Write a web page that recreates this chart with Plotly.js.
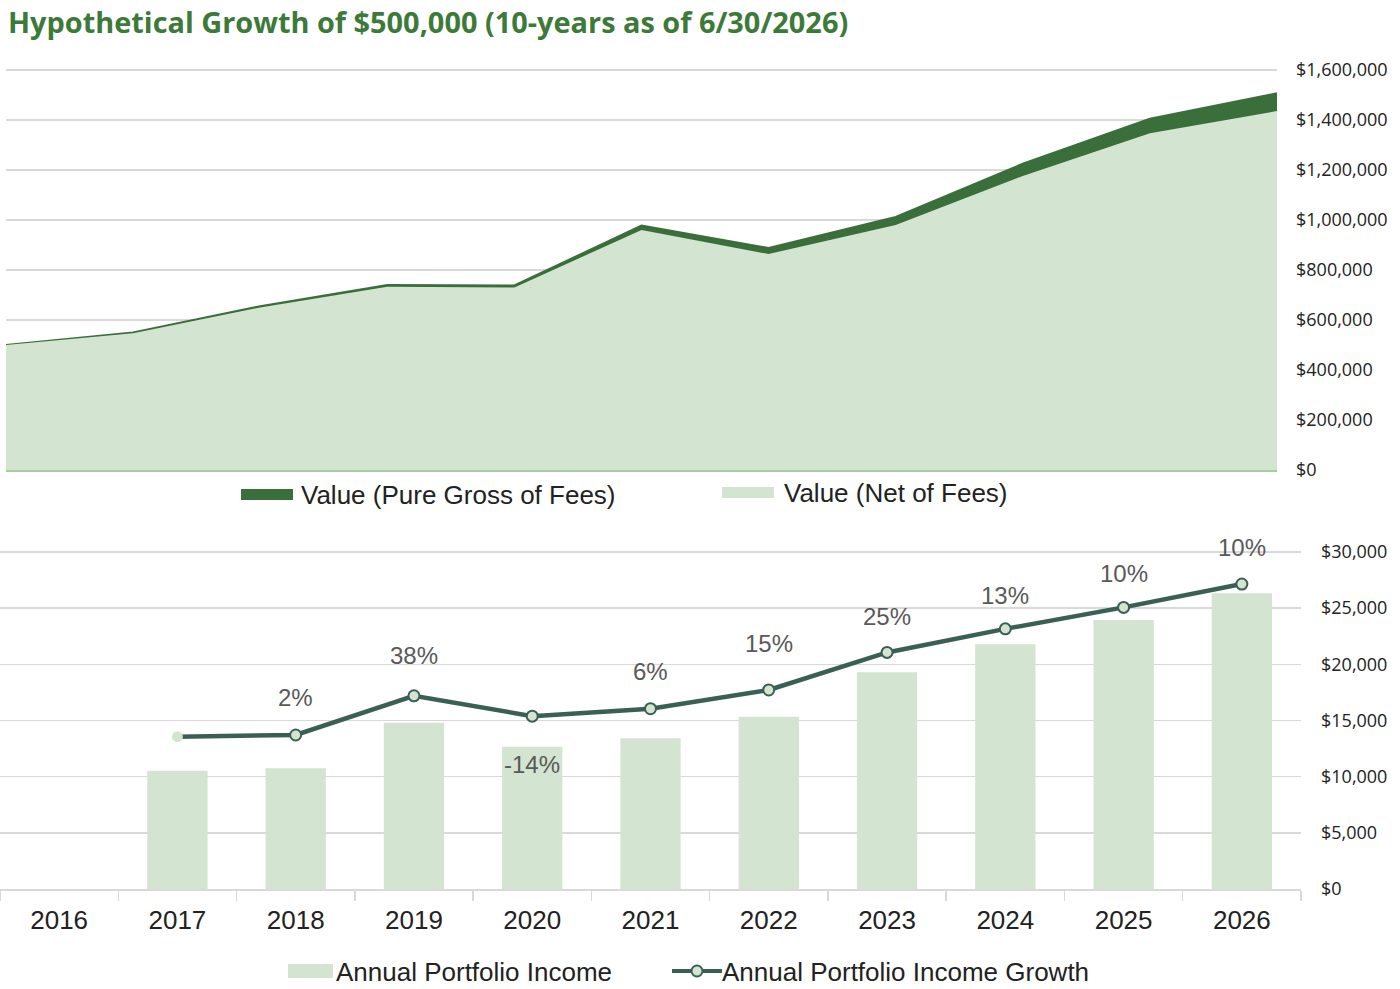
<!DOCTYPE html>
<html>
<head>
<meta charset="utf-8">
<script src="https://cdn.plot.ly/plotly-3.0.1.min.js"></script>
<style>
  html, body { margin: 0; padding: 0; background: #fff; }
  #chart { width: 1400px; height: 989px; }
</style>
</head>
<body>
<div id="chart"></div>
<script>
// values
const years = [2016, 2017, 2018, 2019, 2020, 2021, 2022, 2023, 2024, 2025, 2026];
const grossValue = [500000, 550000, 655000, 740000, 738000, 978000, 888000, 1012000, 1225000, 1405000, 1507000];
const netValue = [500000, 547000, 650000, 733000, 730000, 960000, 864000, 980000, 1176000, 1347000, 1436000];

const incomeYears = years.map(String);
const annualIncome = [null, 10530, 10740, 14810, 12670, 13410, 15340, 19290, 21780, 23950, 26330];
const incomeGrowthLine = [null, 13560, 13710, 17200, 15390, 16050, 17720, 21060, 23160, 25070, 27150];
const growthLabels = ["", "", "2%", "38%", "-14%", "6%", "15%", "25%", "13%", "10%", "10%"];

const W = 1400, H = 989;
const px = (x) => x / W;
const py = (y) => 1 - y / H;

const darkGreen = "#3a6e3a";
const lightGreen = "#d3e5d0";
const lineGreen = "#3a5f55";
const gridGray = "#d9d9d9";
const textDark = "#222222";

const data = [
    {
        x: years,
        y: grossValue,
        type: "scatter",
        mode: "lines",
        fill: "tozeroy",
        fillcolor: darkGreen,
        line: { color: darkGreen, width: 2 },
        xaxis: "x",
        yaxis: "y",
        hoverinfo: "skip",
    },
    {
        x: years,
        y: netValue,
        type: "scatter",
        mode: "lines",
        fill: "tozeroy",
        fillcolor: lightGreen,
        line: { color: lightGreen, width: 0 },
        xaxis: "x",
        yaxis: "y",
        hoverinfo: "skip",
    },
    {
        x: incomeYears,
        y: annualIncome,
        type: "bar",
        width: 0.51,
        marker: { color: lightGreen },
        xaxis: "x2",
        yaxis: "y2",
        hoverinfo: "skip",
    },
    {
        x: incomeYears,
        y: incomeGrowthLine,
        type: "scatter",
        mode: "lines+markers",
        line: { color: lineGreen, width: 4.5 },
        marker: {
            size: 11,
            color: lightGreen,
            line: { color: lineGreen, width: incomeYears.map((d, i) => (i === 1 ? 0 : 2)) },
        },
        xaxis: "x2",
        yaxis: "y2",
        hoverinfo: "skip",
    },
];

// offsets of the percentage labels above (+) or below (-) each point
const labelShift = [0, 0, 38, 40, -48, 37, 46, 36, 33, 34, 37];
const annotations = [];
growthLabels.forEach((label, i) => {
    if (!label) return;
    annotations.push({
        x: i,
        y: incomeGrowthLine[i],
        xref: "x2",
        yref: "y2",
        text: label,
        showarrow: false,
        yshift: labelShift[i],
        font: { family: "Liberation Sans, Arial, sans-serif", size: 24, color: "#595959" },
    });
});

const legendFont = { family: "Liberation Sans, Arial, sans-serif", size: 26, color: textDark };
const legendText = (x, y, text) => ({
    x: px(x), y: py(y), xref: "paper", yref: "paper",
    xanchor: "left", yanchor: "middle", showarrow: false,
    text: text, font: legendFont,
});
annotations.push(
    {
        x: px(6), y: py(21), xref: "paper", yref: "paper",
        xanchor: "left", yanchor: "middle", showarrow: false,
        text: "<b>Hypothetical Growth of $500,000 (10-years as of 6/30/2026)</b>",
        font: { family: "Open Sans, sans-serif", size: 28.9, color: "#3d7a3a" },
    },
    legendText(299, 495, "Value (Pure Gross of Fees)"),
    legendText(782, 493, "Value (Net of Fees)"),
    legendText(334, 972, "Annual Portfolio Income"),
    legendText(720, 972, "Annual Portfolio Income Growth")
);

const rect = (x0, y0, x1, y1, color) => ({
    type: "rect", xref: "paper", yref: "paper",
    x0: px(x0), x1: px(x1), y0: py(y0), y1: py(y1),
    fillcolor: color, line: { width: 0 },
});
const shapes = [
    rect(241, 489, 293, 500, darkGreen),
    rect(722, 487, 774, 498, lightGreen),
    rect(288, 964, 333, 978, lightGreen),
    {
        type: "line", xref: "paper", yref: "paper",
        x0: px(672), x1: px(722), y0: py(971), y1: py(971),
        line: { color: lineGreen, width: 4 },
    },
    {
        type: "circle", xref: "paper", yref: "paper",
        x0: px(691.5), x1: px(702.5), y0: py(965.5), y1: py(976.5),
        fillcolor: lightGreen, line: { color: lineGreen, width: 2 },
    },
];

const tickFont = { family: "Open Sans, sans-serif", size: 18, color: textDark };

const layout = {
    width: W,
    height: H,
    margin: { l: 0, r: 0, t: 0, b: 0 },
    paper_bgcolor: "#ffffff",
    plot_bgcolor: "#ffffff",
    showlegend: false,
    xaxis: {
        domain: [px(6), px(1277)],
        range: [2016, 2026],
        showticklabels: false,
        ticks: "",
        showgrid: false,
        zeroline: false,
        showline: true,
        linecolor: "#a9cda3",
        linewidth: 1.5,
        anchor: "y",
        fixedrange: true,
    },
    yaxis: {
        domain: [py(470), py(68)],
        range: [0, 1608000],
        tickvals: [0, 200000, 400000, 600000, 800000, 1000000, 1200000, 1400000, 1600000],
        side: "right",
        tickformat: "$,.0f",
        tickfont: tickFont,
        ticks: "",
        ticklabelstandoff: 18,
        gridcolor: gridGray,
        gridwidth: 1.5,
        zeroline: false,
        anchor: "x",
        fixedrange: true,
    },
    xaxis2: {
        domain: [0, px(1301)],
        type: "category",
        categoryorder: "array",
        categoryarray: incomeYears,
        range: [-0.5, 10.5],
        tickson: "boundaries",
        ticks: "outside",
        ticklen: 10,
        tickcolor: gridGray,
        tickwidth: 1.5,
        showline: true,
        linecolor: gridGray,
        linewidth: 1.5,
        showgrid: false,
        tickfont: { family: "Liberation Sans, Arial, sans-serif", size: 26, color: textDark },
        ticklabelstandoff: 7,
        anchor: "y2",
        fixedrange: true,
    },
    yaxis2: {
        domain: [py(889), py(550)],
        range: [0, 30180],
        tickvals: [0, 5000, 10000, 15000, 20000, 25000, 30000],
        side: "right",
        tickformat: "$,.0f",
        tickfont: tickFont,
        ticks: "",
        ticklabelstandoff: 19,
        gridcolor: gridGray,
        gridwidth: 1.5,
        zeroline: false,
        anchor: "x2",
        fixedrange: true,
    },
    annotations: annotations,
    shapes: shapes,
};

Plotly.newPlot(document.getElementById("chart"), data, layout, { displayModeBar: false, staticPlot: true });
</script>
</body>
</html>
